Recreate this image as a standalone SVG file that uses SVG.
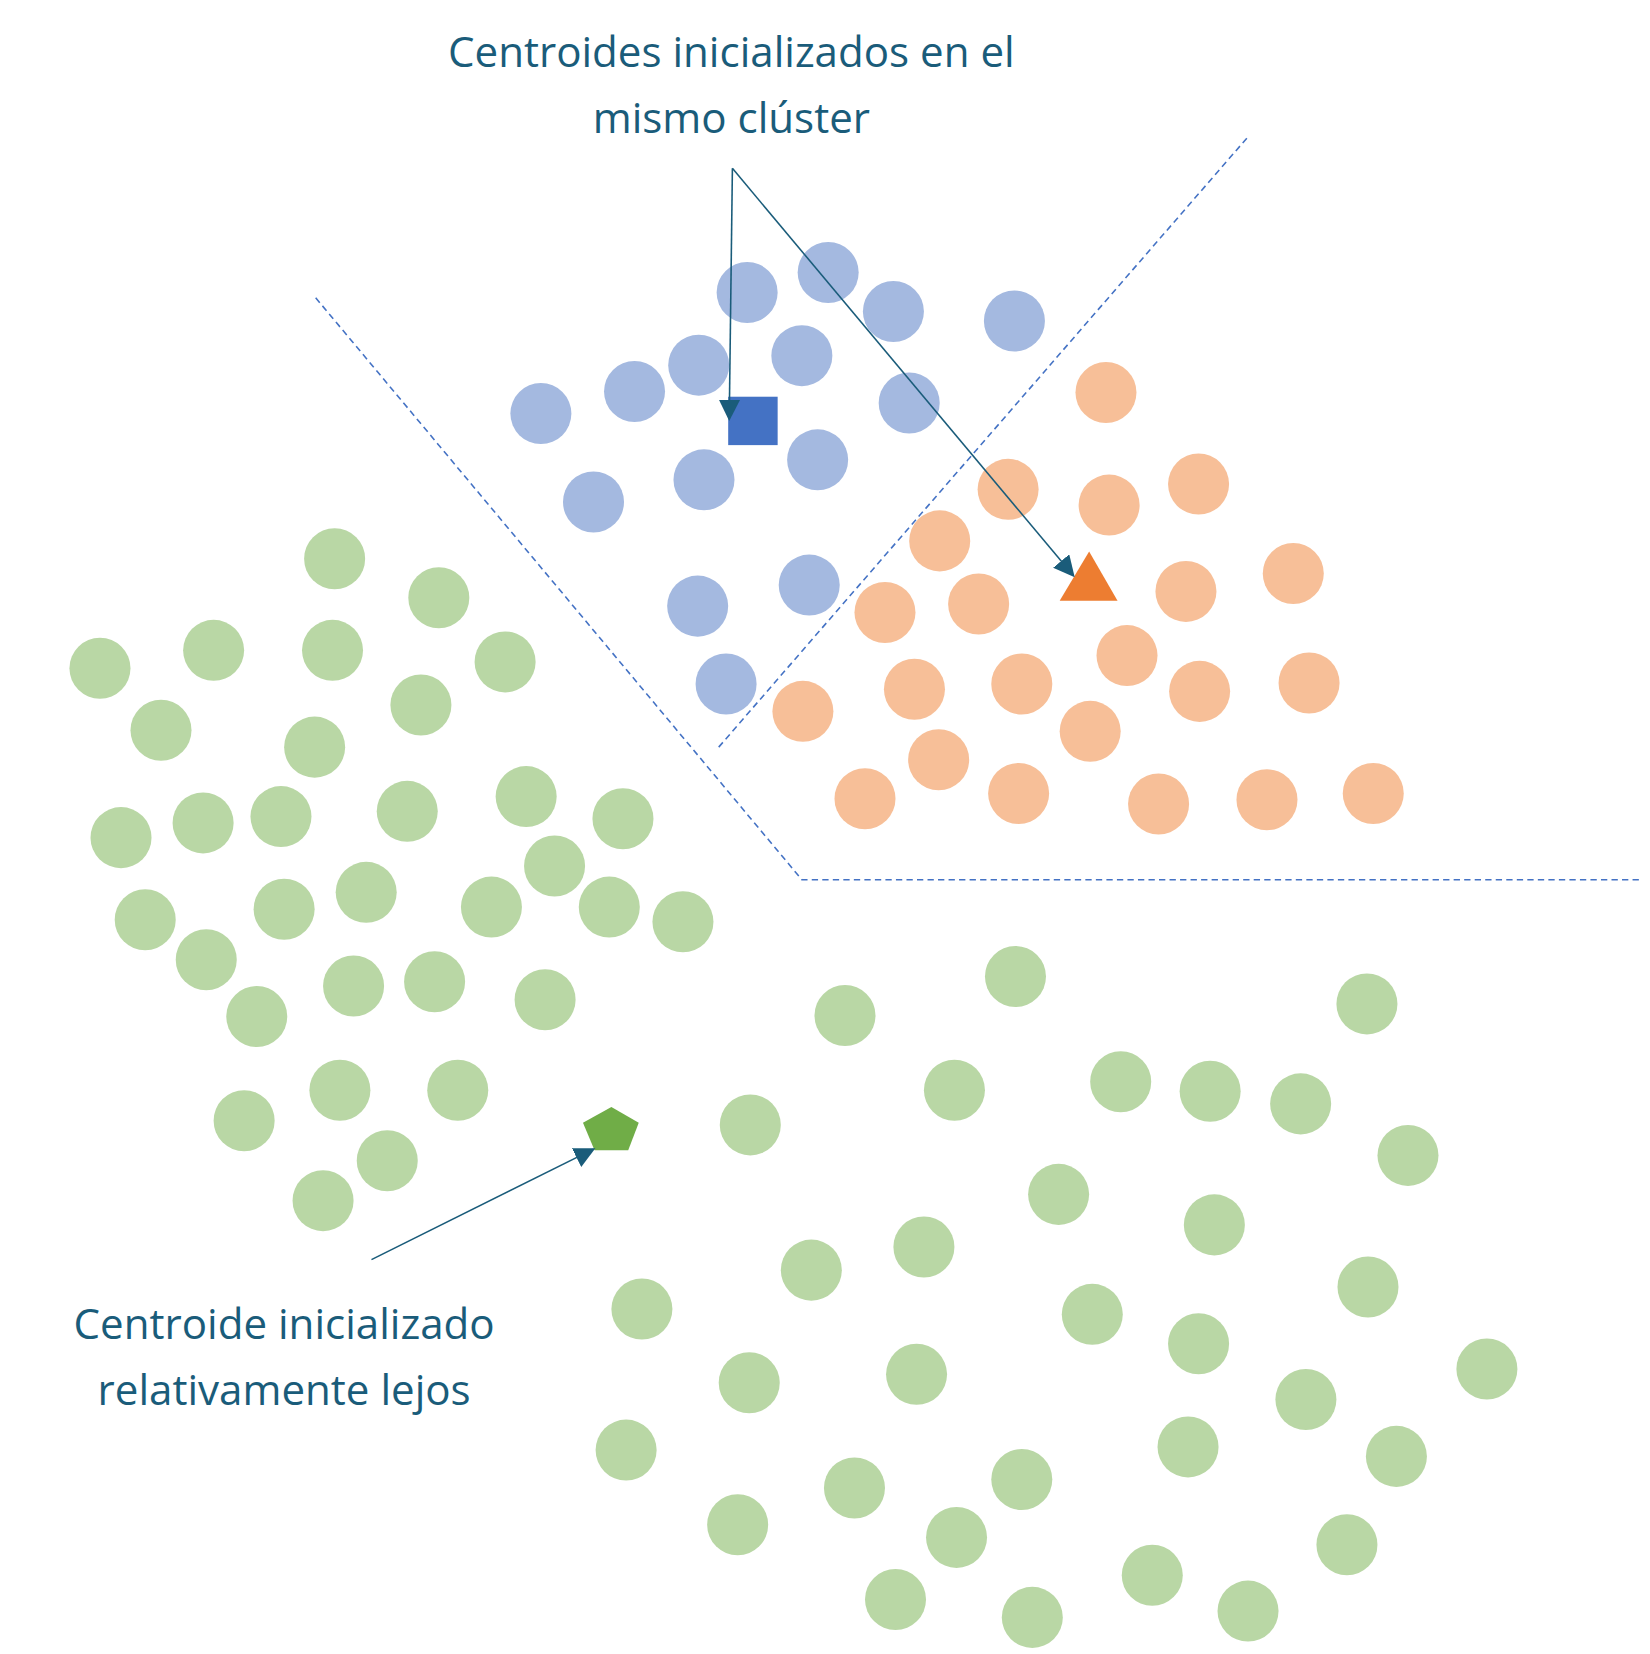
<svg xmlns="http://www.w3.org/2000/svg" width="1650" height="1654" viewBox="0 0 1650 1654">
<style>
.b{fill:#a4b9e0}.o{fill:#f7bf98}.g{fill:#b9d7a5}
.d{fill:none;stroke:#4472c4;stroke-width:1.5;stroke-dasharray:6 4}
.a{fill:none;stroke:#1a5c7a;stroke-width:1.5;marker-end:url(#ah)}
text{font-family:"Open Sans","Liberation Sans",Arial,sans-serif;font-size:40px;fill:#1a5c7a;text-anchor:middle}
</style>
<defs><marker id="ah" viewBox="0 0 10 10" refX="9" refY="5" markerWidth="20" markerHeight="20" markerUnits="userSpaceOnUse" orient="auto"><path d="M0,0L10,5L0,10z" fill="#1a5c7a"/></marker></defs>
<rect width="1650" height="1654" fill="#fff"/>
<g transform="scale(1.0523)">
<g id="blue-cluster">
<circle class="b" cx="710" cy="278" r="29"/><circle class="b" cx="787" cy="259" r="29"/><circle class="b" cx="849" cy="296" r="29"/><circle class="b" cx="964" cy="305" r="29"/><circle class="b" cx="664" cy="347" r="29"/><circle class="b" cx="762" cy="338" r="29"/><circle class="b" cx="603" cy="372" r="29"/><circle class="b" cx="514" cy="393" r="29"/><circle class="b" cx="864" cy="383" r="29"/><circle class="b" cx="777" cy="437" r="29"/><circle class="b" cx="669" cy="456" r="29"/><circle class="b" cx="564" cy="477" r="29"/><circle class="b" cx="769" cy="556" r="29"/><circle class="b" cx="663" cy="576" r="29"/><circle class="b" cx="690" cy="650" r="29"/>
</g>
<g id="orange-cluster">
<circle class="o" cx="1051" cy="373" r="29"/><circle class="o" cx="958" cy="465" r="29"/><circle class="o" cx="1139" cy="460" r="29"/><circle class="o" cx="1054" cy="480" r="29"/><circle class="o" cx="893" cy="514" r="29"/><circle class="o" cx="1229" cy="545" r="29"/><circle class="o" cx="1127" cy="562" r="29"/><circle class="o" cx="930" cy="574" r="29"/><circle class="o" cx="841" cy="582" r="29"/><circle class="o" cx="1071" cy="623" r="29"/><circle class="o" cx="869" cy="655" r="29"/><circle class="o" cx="971" cy="650" r="29"/><circle class="o" cx="1140" cy="657" r="29"/><circle class="o" cx="1244" cy="649" r="29"/><circle class="o" cx="763" cy="676" r="29"/><circle class="o" cx="1036" cy="695" r="29"/><circle class="o" cx="892" cy="722" r="29"/><circle class="o" cx="968" cy="754" r="29"/><circle class="o" cx="822" cy="759" r="29"/><circle class="o" cx="1101" cy="764" r="29"/><circle class="o" cx="1204" cy="760" r="29"/><circle class="o" cx="1305" cy="754" r="29"/>
</g>
<g id="green-cluster">
<circle class="g" cx="318" cy="531" r="29"/><circle class="g" cx="417" cy="568" r="29"/><circle class="g" cx="203" cy="618" r="29"/><circle class="g" cx="316" cy="618" r="29"/><circle class="g" cx="480" cy="629" r="29"/><circle class="g" cx="95" cy="635" r="29"/><circle class="g" cx="153" cy="694" r="29"/><circle class="g" cx="400" cy="670" r="29"/><circle class="g" cx="299" cy="710" r="29"/><circle class="g" cx="115" cy="796" r="29"/><circle class="g" cx="193" cy="782" r="29"/><circle class="g" cx="267" cy="776" r="29"/><circle class="g" cx="387" cy="771" r="29"/><circle class="g" cx="500" cy="757" r="29"/><circle class="g" cx="592" cy="778" r="29"/><circle class="g" cx="527" cy="823" r="29"/><circle class="g" cx="138" cy="874" r="29"/><circle class="g" cx="270" cy="864" r="29"/><circle class="g" cx="348" cy="848" r="29"/><circle class="g" cx="467" cy="862" r="29"/><circle class="g" cx="579" cy="862" r="29"/><circle class="g" cx="649" cy="876" r="29"/><circle class="g" cx="196" cy="912" r="29"/><circle class="g" cx="336" cy="937" r="29"/><circle class="g" cx="413" cy="933" r="29"/><circle class="g" cx="518" cy="950" r="29"/><circle class="g" cx="244" cy="966" r="29"/><circle class="g" cx="323" cy="1036" r="29"/><circle class="g" cx="435" cy="1036" r="29"/><circle class="g" cx="232" cy="1065" r="29"/><circle class="g" cx="368" cy="1103" r="29"/><circle class="g" cx="307" cy="1141" r="29"/>
<circle class="g" cx="803" cy="965" r="29"/><circle class="g" cx="965" cy="928" r="29"/><circle class="g" cx="1299" cy="954" r="29"/><circle class="g" cx="907" cy="1036" r="29"/><circle class="g" cx="1065" cy="1028" r="29"/><circle class="g" cx="1150" cy="1037" r="29"/><circle class="g" cx="1236" cy="1049" r="29"/><circle class="g" cx="713" cy="1069" r="29"/><circle class="g" cx="1338" cy="1098" r="29"/><circle class="g" cx="1006" cy="1135" r="29"/><circle class="g" cx="1154" cy="1164" r="29"/><circle class="g" cx="878" cy="1185" r="29"/><circle class="g" cx="771" cy="1207" r="29"/><circle class="g" cx="1300" cy="1223" r="29"/><circle class="g" cx="610" cy="1244" r="29"/><circle class="g" cx="1038" cy="1249" r="29"/><circle class="g" cx="1139" cy="1277" r="29"/><circle class="g" cx="871" cy="1306" r="29"/><circle class="g" cx="712" cy="1314" r="29"/><circle class="g" cx="1241" cy="1330" r="29"/><circle class="g" cx="1413" cy="1301" r="29"/><circle class="g" cx="595" cy="1378" r="29"/><circle class="g" cx="1129" cy="1375" r="29"/><circle class="g" cx="1327" cy="1384" r="29"/><circle class="g" cx="971" cy="1406" r="29"/><circle class="g" cx="812" cy="1414" r="29"/><circle class="g" cx="701" cy="1449" r="29"/><circle class="g" cx="909" cy="1461" r="29"/><circle class="g" cx="1280" cy="1468" r="29"/><circle class="g" cx="1095" cy="1497" r="29"/><circle class="g" cx="851" cy="1520" r="29"/><circle class="g" cx="981" cy="1537" r="29"/><circle class="g" cx="1186" cy="1531" r="29"/>
</g>
<g id="centroid-square"><rect x="692" y="377" width="47" height="46" fill="#4472c4"/></g>
<g id="centroid-triangle"><polygon points="1035,524 1007,571 1062,571" fill="#ed7d31"/></g>
<g id="centroid-pentagon"><polygon points="581,1052 607,1067 597,1093 565,1093 554,1067" fill="#70ad47"/></g>
<g id="boundaries">
<polyline class="d" points="300,283 762,836 1560,836"/>
<line class="d" x1="683" y1="710" x2="1186" y2="130"/>
</g>
<g id="connectors">
<polyline class="a" points="696,160 693,398"/>
<polyline class="a" points="696,160 1020,547"/>
<line class="a" x1="353" y1="1197" x2="564" y2="1092"/>
</g>
<g id="labels">
<text x="695" y="64">Centroides inicializados en el</text>
<text x="695" y="126">mismo clúster</text>
<text x="270" y="1272">Centroide inicializado</text>
<text x="270" y="1335">relativamente lejos</text>
</g>
</g>
</svg>
